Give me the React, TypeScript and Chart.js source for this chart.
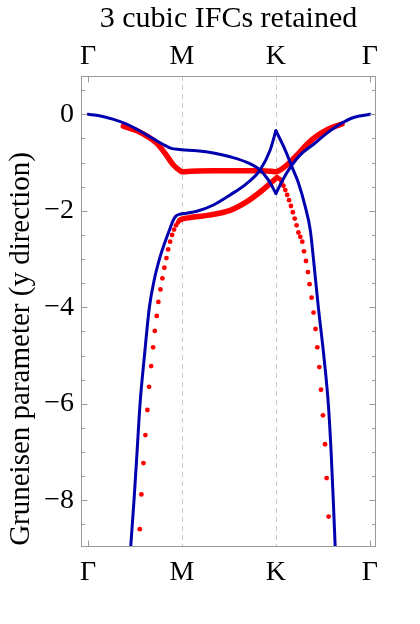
import React, { useEffect, useRef } from 'react';
import { Chart, registerables } from 'chart.js';

Chart.register(...registerables);

// ---- text ----
const chartTitle = '3 cubic IFCs retained';
const yAxisTitle = 'Gruneisen parameter (y direction)';

// ---- axes ----
const pathLabels = ['Γ', 'M', 'K', 'Γ'];
const pathPositions = [0, 1, 2, 3];
const yTickValues = [-8, -6, -4, -2, 0];
const yMinorTickValues = [-8.5, -7.5, -7, -6.5, -5.5, -5, -4.5, -3.5, -3, -2.5, -1.5, -1, -0.5, 0.5];
const xRange = [-0.076, 3.066];
const yRange = [-8.97, 0.795];

// ---- blue (solid) bands ----
const blueA1X = [0, 0.12, 0.262, 0.405, 0.547, 0.689, 0.795, 0.885, 0.97, 1.0, 1.158, 1.335, 1.513, 1.691, 1.832, 1.921, 2.0];
const blueA1Y = [0, -0.03, -0.1, -0.2, -0.34, -0.5, -0.62, -0.705, -0.73, -0.735, -0.755, -0.8, -0.88, -0.995, -1.156, -1.363, -1.64];
const blueA2X = [2.0, 2.081, 2.153, 2.259, 2.401, 2.544, 2.686, 2.828, 3.0];
const blueA2Y = [-1.64, -1.33, -1.1, -0.84, -0.62, -0.39, -0.2, -0.065, 0];
const blueB1X = [0.452, 0.489, 0.521, 0.553, 0.6, 0.653, 0.703, 0.767, 0.82, 0.873, 0.91, 0.94, 0.98, 1.05, 1.158, 1.335, 1.513, 1.691, 1.832, 1.939, 2.0];
const blueB1Y = [-9.0, -7.99, -7.0, -6.0, -5.0, -3.99, -3.44, -2.95, -2.64, -2.36, -2.18, -2.1, -2.07, -2.05, -2.01, -1.88, -1.67, -1.43, -1.15, -0.74, -0.34];
const blueB2X = [2.0, 2.099, 2.171, 2.241, 2.313, 2.366, 2.4, 2.452, 2.51, 2.558, 2.588, 2.611, 2.632];
const blueB2Y = [-0.34, -0.74, -1.09, -1.43, -1.92, -2.4, -3.0, -4.0, -5.0, -6.0, -7.0, -8.0, -9.0];

// ---- red (sampled points) bands ----
const redUpperX = [0.375, 0.518, 0.625, 0.731, 0.82, 0.908, 0.98, 1.0, 1.1, 1.335, 1.691, 1.832, 1.95, 2.0, 2.05, 2.135, 2.241, 2.331, 2.42, 2.508, 2.6, 2.704];
const redUpperY = [-0.243, -0.34, -0.45, -0.6, -0.81, -1.05, -1.17, -1.19, -1.18, -1.17, -1.17, -1.17, -1.18, -1.19, -1.15, -1.02, -0.81, -0.62, -0.47, -0.36, -0.27, -0.2];
const redLowerX = [0.978, 1.0, 1.086, 1.282, 1.513, 1.691, 1.832, 1.958, 2.011];
const redLowerY = [-2.19, -2.17, -2.14, -2.09, -1.99, -1.81, -1.61, -1.4, -1.31];
const redLeftDotsX = [0.55, 0.567, 0.589, 0.61, 0.631, 0.649, 0.671, 0.692, 0.71, 0.731, 0.748, 0.77, 0.791, 0.812, 0.834, 0.852, 0.873, 0.894, 0.915, 0.936, 0.957];
const redLeftDotsY = [-8.6, -7.88, -7.23, -6.65, -6.13, -5.65, -5.22, -4.83, -4.49, -4.18, -3.89, -3.63, -3.4, -3.18, -2.98, -2.8, -2.64, -2.5, -2.39, -2.3, -2.24];
const redRightDotsX = [2.04, 2.06, 2.08, 2.1, 2.12, 2.14, 2.16, 2.18, 2.2, 2.22, 2.24, 2.26, 2.281, 2.299, 2.32, 2.341, 2.358, 2.38, 2.401, 2.422, 2.441, 2.462, 2.48, 2.501, 2.523, 2.54, 2.561];
const redRightDotsY = [-1.34, -1.4, -1.48, -1.57, -1.67, -1.78, -1.9, -2.03, -2.16, -2.3, -2.45, -2.54, -2.64, -2.84, -3.04, -3.27, -3.52, -3.8, -4.11, -4.45, -4.83, -5.24, -5.71, -6.24, -6.84, -7.54, -8.34];

const BLUE = 'rgb(0,0,175)';
const RED = 'rgb(255,0,0)';
const FRAME = '#9a9a9a';
const FONT = '"Liberation Serif", "Times New Roman", serif';

const pts = (xs: number[], ys: number[]) => xs.map((x, i) => ({ x, y: ys[i] }));

const decorPlugin = {
  id: 'decor',
  beforeDatasetsDraw(chart: any) {
    const { ctx, chartArea: a, scales } = chart;
    const xs = scales.x;
    ctx.save();
    ctx.strokeStyle = '#c8c8c8';
    ctx.lineWidth = 1;
    ctx.setLineDash([5, 4]);
    [1, 2].forEach((v) => {
      const px = Math.round(xs.getPixelForValue(pathPositions[v])) + 0.5;
      ctx.beginPath();
      ctx.moveTo(px, a.top);
      ctx.lineTo(px, a.bottom);
      ctx.stroke();
    });
    ctx.restore();
  },
  afterDatasetsDraw(chart: any) {
    const { ctx, chartArea: a, scales } = chart;
    const xs = scales.x;
    const ys = scales.y;
    ctx.save();
    ctx.strokeStyle = FRAME;
    ctx.lineWidth = 1;
    const L = Math.round(a.left) + 0.5;
    const R = Math.round(a.right) - 0.5;
    const T = Math.round(a.top) + 0.5;
    const B = Math.round(a.bottom) - 0.5;
    ctx.strokeRect(L, T, R - L, B - T);
    const tick = (x1: number, y1: number, x2: number, y2: number) => {
      ctx.beginPath();
      ctx.moveTo(x1, y1);
      ctx.lineTo(x2, y2);
      ctx.stroke();
    };
    yTickValues.forEach((v) => {
      const py = Math.round(ys.getPixelForValue(v)) + 0.5;
      tick(L, py, L + 6, py);
      tick(R, py, R - 6, py);
    });
    yMinorTickValues.forEach((v) => {
      const py = Math.round(ys.getPixelForValue(v)) + 0.5;
      tick(L, py, L + 3.5, py);
      tick(R, py, R - 3.5, py);
    });
    [0, 3].forEach((i) => {
      const px = Math.round(xs.getPixelForValue(pathPositions[i])) + 0.5;
      tick(px, T, px, T + 6);
      tick(px, B, px, B - 6);
    });
    // texts
    ctx.fillStyle = '#000';
    ctx.textAlign = 'center';
    ctx.textBaseline = 'alphabetic';
    ctx.font = `30px ${FONT}`;
    ctx.fillText(chartTitle, (a.left + a.right) / 2, 27);
    ctx.font = `29px ${FONT}`;
    ctx.translate(29, 349);
    ctx.rotate(-Math.PI / 2);
    ctx.fillText(yAxisTitle, 0, 0);
    ctx.restore();
  },
};

export default function App() {
  const ref = useRef<HTMLCanvasElement | null>(null);
  useEffect(() => {
    document.body.style.margin = '0';
    const canvas = ref.current;
    if (!canvas) return;
    const lineDs = (xs: number[], ys: number[], color: string, width: number) => ({
      data: pts(xs, ys),
      borderColor: color,
      backgroundColor: color,
      borderWidth: width,
      pointRadius: 0,
      showLine: true,
      fill: false,
      cubicInterpolationMode: 'monotone' as const,
      borderCapStyle: 'round' as const,
      borderJoinStyle: 'round' as const,
      clip: 0,
    });
    const dotDs = (xs: number[], ys: number[]) => ({
      data: pts(xs, ys),
      borderColor: RED,
      backgroundColor: RED,
      borderWidth: 0,
      pointRadius: 2.4,
      pointStyle: 'circle',
      showLine: false,
      clip: 0,
    });
    const tickFont = { family: FONT, size: 28 };
    const xTicks = (padding: number) => ({
      callback: (v: any) => pathLabels[pathPositions.indexOf(Number(v))] ?? '',
      font: tickFont,
      color: '#000',
      padding,
      maxRotation: 0,
      autoSkip: false,
    });
    const chart = new Chart(canvas, {
      type: 'scatter',
      data: {
        datasets: [
          lineDs(blueA1X, blueA1Y, BLUE, 3),
          lineDs(blueA2X, blueA2Y, BLUE, 3),
          lineDs(blueB1X, blueB1Y, BLUE, 3),
          lineDs(blueB2X, blueB2Y, BLUE, 3),
          lineDs(redUpperX, redUpperY, RED, 5.5),
          lineDs(redLowerX, redLowerY, RED, 5.5),
          dotDs(redLeftDotsX, redLeftDotsY),
          dotDs(redRightDotsX, redRightDotsY),
        ] as any,
      },
      options: {
        animation: false,
        responsive: false,
        maintainAspectRatio: false,
        events: [],
        layout: { padding: { left: 0, right: 44, top: 0, bottom: 0 } },
        plugins: { legend: { display: false }, tooltip: { enabled: false }, title: { display: false } },
        scales: {
          x: {
            type: 'linear',
            position: 'bottom',
            min: xRange[0],
            max: xRange[1],
            grid: { display: false, drawTicks: false },
            border: { display: false },
            afterBuildTicks: (s: any) => {
              s.ticks = pathPositions.map((v) => ({ value: v }));
            },
            ticks: xTicks(9),
            afterFit: (s: any) => {
              s.height = 77;
            },
          },
          xTop: {
            type: 'linear',
            position: 'top',
            min: xRange[0],
            max: xRange[1],
            grid: { display: false, drawTicks: false },
            border: { display: false },
            afterBuildTicks: (s: any) => {
              s.ticks = pathPositions.map((v) => ({ value: v }));
            },
            ticks: xTicks(3),
            afterFit: (s: any) => {
              s.height = 76;
            },
          },
          y: {
            type: 'linear',
            min: yRange[0],
            max: yRange[1],
            grid: { display: false, drawTicks: false },
            border: { display: false },
            afterBuildTicks: (s: any) => {
              s.ticks = yTickValues.map((v) => ({ value: v }));
            },
            ticks: {
              callback: (v: any) => (Number(v) === 0 ? '0' : '\u2212' + Math.abs(Number(v))),
              font: tickFont,
              color: '#000',
              padding: 7,
            },
            afterFit: (s: any) => {
              s.width = 81;
            },
          },
        },
      } as any,
      plugins: [decorPlugin],
    });
    return () => chart.destroy();
  }, []);
  return <canvas ref={ref} width={420} height={624} style={{ display: 'block' }} />;
}
